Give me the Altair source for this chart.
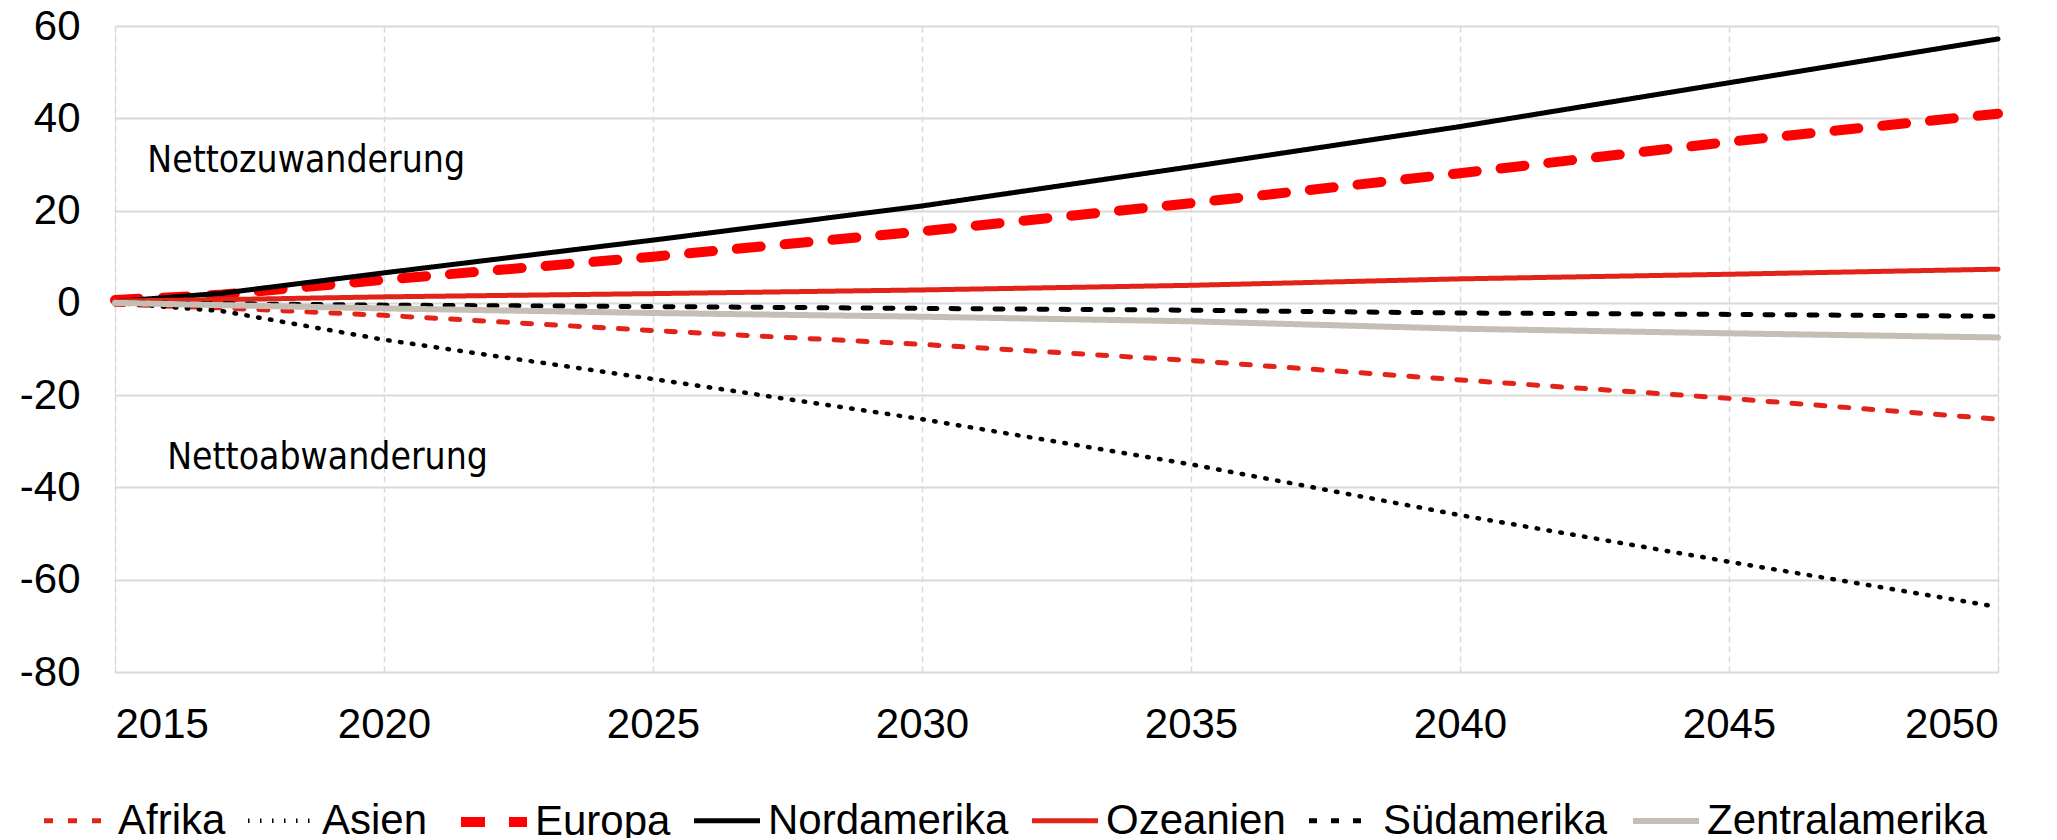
import altair as alt
import pandas as pd

# ---- data ----
years = [2015, 2017, 2020, 2025, 2030, 2035, 2040, 2045, 2050]
regions = ["Afrika", "Asien", "Europa", "Nordamerika", "Ozeanien", "Südamerika", "Zentralamerika"]

afrika = [-0.3, -1.1, -2.7, -6.0, -9.0, -12.5, -16.7, -20.7, -25.2]
asien = [0.0, -1.8, -8.0, -16.5, -25.2, -35.0, -46.0, -56.1, -65.9]
europa = [0.6, 1.8, 5.0, 10.0, 15.5, 21.6, 28.1, 34.9, 41.0]
nordamerika = [0.3, 2.1, 6.5, 13.6, 21.0, 29.5, 38.2, 47.7, 57.2]
ozeanien = [0.4, 0.7, 1.3, 2.0, 2.8, 3.8, 5.2, 6.2, 7.3]
suedamerika = [0.0, -0.2, -0.5, -0.8, -1.2, -1.6, -2.2, -2.5, -2.9]
zentralamerika = [0.0, -0.5, -1.2, -2.2, -3.0, -4.0, -5.6, -6.6, -7.5]

series = [afrika, asien, europa, nordamerika, ozeanien, suedamerika, zentralamerika]

x_ticks = [2015, 2020, 2025, 2030, 2035, 2040, 2045, 2050]
y_ticks = [-80, -60, -40, -20, 0, 20, 40, 60]

ann_text = ["Nettozuwanderung", "Nettoabwanderung"]
ann_year = [2015.6, 2015.97]
ann_value = [28.4, -36.0]

# ---- styles ----
colors = ["#e2231a", "#000000", "#ff0000", "#000000", "#e2231a", "#000000", "#c5beb5"]
dashes = [[9, 15], [1.5, 10.5], [24, 24], [1, 0], [1, 0], [8, 14], [1, 0]]
widths = [5, 4.5, 10, 5, 5, 5, 6]

rows = []
for name, vals in zip(regions, series):
    for yr, v in zip(years, vals):
        rows.append({"Jahr": yr, "Wert": v, "Region": name})
df = pd.DataFrame(rows)

ann_df = pd.DataFrame({"Jahr": ann_year, "Wert": ann_value, "Text": ann_text})

FONT = "Liberation Sans, Arial, sans-serif"

leg = alt.Legend(
    title=None,
    orient="none",
    direction="horizontal",
    columns=7,
    legendX=-76,
    legendY=758,
    labelFont=FONT,
    labelFontSize=42,
    labelColor="black",
    labelOffset=3,
    columnPadding=13,
    symbolType="stroke",
    symbolSize=4356,
    padding=0,
    labelLimit=400,
)

x_enc = alt.X(
    "Jahr:Q",
    scale=alt.Scale(domain=[2015, 2050], nice=False, zero=False),
    axis=alt.Axis(
        values=x_ticks, format="d", title=None, labelFont=FONT, labelFontSize=42,
        labelColor="black", labelPadding=32, grid=True, gridDash=[6, 4],
        gridColor="#d9d9d9", gridWidth=1.5, domain=False, ticks=False,
    ),
)
y_enc = alt.Y(
    "Wert:Q",
    scale=alt.Scale(domain=[-80, 60], nice=False),
    axis=alt.Axis(
        values=y_ticks, title=None, labelFont=FONT, labelFontSize=42,
        labelExpr="toString(datum.value)",
        labelColor="black", labelPadding=35, grid=True,
        gridColor="#d9d9d9", gridWidth=2, domain=False, ticks=False,
    ),
)

lines = alt.Chart(df).mark_line(strokeCap="round", strokeJoin="round").encode(
    x=x_enc,
    y=y_enc,
    color=alt.Color("Region:N", scale=alt.Scale(domain=regions, range=colors), legend=leg),
    strokeDash=alt.StrokeDash("Region:N", scale=alt.Scale(domain=regions, range=dashes), legend=leg),
    strokeWidth=alt.StrokeWidth(
        "Region:N", scale=alt.Scale(type="ordinal", domain=regions, range=widths), legend=leg
    ),
)

texts = alt.Chart(ann_df).mark_text(
    align="left", baseline="alphabetic",
    font="DejaVu Sans Condensed, Liberation Sans Narrow, Roboto Condensed, DejaVu Sans",
    fontSize=37, color="black",
).encode(
    x=alt.X("Jahr:Q"),
    y=alt.Y("Wert:Q"),
    text="Text:N",
)

chart = alt.layer(lines, texts).properties(
    width=1883,
    height=646,
    autosize=alt.AutoSizeParams(type="none"),
    padding={"left": 107, "top": 18, "right": 50, "bottom": 166},
).configure_view(stroke=None).configure(background="white")

chart.save("out.html", embed_options={"renderer": "svg", "actions": False})
